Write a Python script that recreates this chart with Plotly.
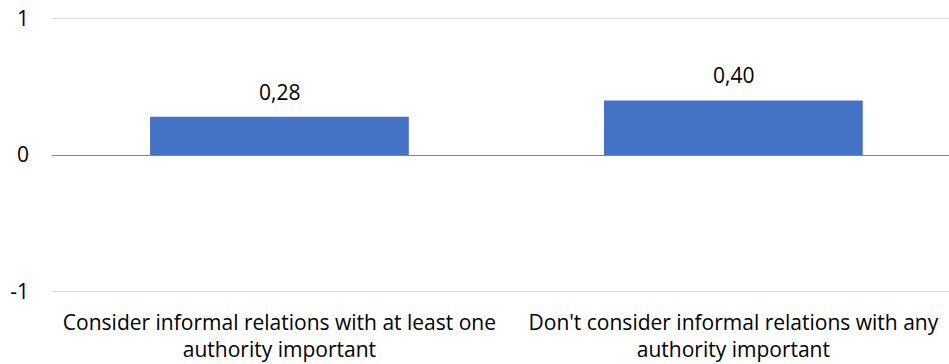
import plotly.graph_objects as go

categories = [
    "Consider informal relations with at least one<br>authority important",
    "Don't consider informal relations with any<br>authority important",
]
values = [0.28, 0.40]
y_ticks = [-1, 0, 1]
y_tick_labels = ["-1", "0", "1"]

bar_color = "#4472C4"
font_family = "Open Sans, sans-serif"
font_size = 21

x_pos = list(range(len(categories)))
labels = [f"{v:.2f}".replace(".", ",") for v in values]

fig = go.Figure(
    go.Bar(
        x=x_pos,
        y=values,
        width=0.57,
        marker=dict(color=bar_color, line=dict(width=0)),
        hoverinfo="skip",
    )
)

for x, v, t in zip(x_pos, values, labels):
    fig.add_annotation(
        x=x, y=v, text=t, showarrow=False,
        yanchor="bottom", yshift=9,
        font=dict(family=font_family, size=font_size, color="#000000"),
    )

fig.update_layout(
    width=949,
    height=364,
    margin=dict(l=52, r=0, t=16, b=70),
    paper_bgcolor="white",
    plot_bgcolor="white",
    showlegend=False,
    font=dict(family=font_family, size=font_size, color="#000000"),
)

fig.update_xaxes(
    range=[-0.501, 1.475],
    tickmode="array",
    tickvals=x_pos,
    ticktext=categories,
    showgrid=False,
    zeroline=False,
    showline=False,
    ticks="",
    ticklabelstandoff=14,
    tickfont=dict(family=font_family, size=font_size, color="#000000"),
)

# padded range so the outer gridlines at -1 and 1 are not clipped at the edges
fig.update_yaxes(
    range=[-1.02, 1.02],
    tickmode="array",
    tickvals=y_ticks,
    ticktext=y_tick_labels,
    showgrid=True,
    gridcolor="#D9D9D9",
    gridwidth=1,
    zeroline=True,
    zerolinecolor="#868686",
    zerolinewidth=1,
    showline=False,
    ticks="",
    ticklabelstandoff=22,
    tickfont=dict(family=font_family, size=font_size, color="#000000"),
)

fig.write_html("out.html")
